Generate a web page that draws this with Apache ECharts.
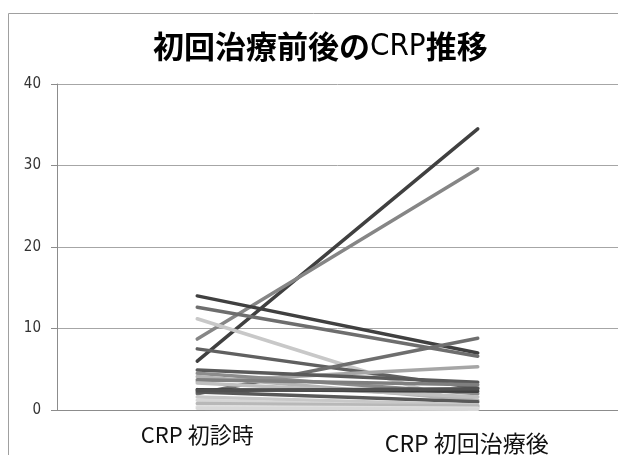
<!DOCTYPE html>
<html>
<head>
<meta charset="utf-8">
<script src="https://cdn.jsdelivr.net/npm/echarts@6/dist/echarts.min.js"></script>
<style>
  html, body { margin: 0; padding: 0; background: #fff; }
  #main { width: 618px; height: 455px; }
</style>
</head>
<body>
<div id="main"></div>
<script>
// CRP values per patient: at first visit -> after first treatment
const categories = ['CRP 初診時', 'CRP 初回治療後']
const crpBefore = [6.0, 8.7, 14.0, 12.6, 11.2, 7.5, 2.0, 3.5, 4.9, 4.5, 4.1, 3.7, 3.3, 2.5, 2.2, 1.6, 1.2, 0.8, 0.4, 0.2, 2.4]
const crpAfter  = [34.5, 29.6, 7.0, 6.6, 0.4, 2.7, 8.8, 5.3, 3.4, 2.0, 1.2, 3.1, 1.6, 2.3, 1.0, 0.6, 0.3, 0.5, 0.2, 0.1, 2.6]
const yTicks = [0, 10, 20, 30, 40]

// grey shades used for the lines
const palette = ['#404040', '#868686', '#404040', '#6e6e6e', '#c8c8c8', '#606060', '#6e6e6e', '#a6a6a6',
  '#5a5a5a', '#8c8c8c', '#b4b4b4', '#7f7f7f', '#bfbfbf', '#404040', '#595959', '#c8c8c8', '#d6d6d6',
  '#b8b8b8', '#e0e0e0', '#d9d9d9', '#505050']

const chart = echarts.init(document.getElementById('main'))

const series = crpBefore.map((v, i) => ({
  type: 'line',
  data: [v, crpAfter[i]],
  showSymbol: false,
  silent: true,
  lineStyle: { color: palette[i], width: 3.5, cap: 'round' }
}))

const narrow = 'Liberation Sans Narrow, DejaVu Sans Condensed, sans-serif'

chart.setOption({
  animation: false,
  title: {
    text: '{b|初回治療前後の}{n|CRP}{b|推移}',
    left: 148,
    top: 26,
    textStyle: {
      rich: {
        b: { fontSize: 31, fontWeight: 'bold', color: '#000', fontFamily: 'Noto Sans CJK JP' },
        n: { fontSize: 31, fontWeight: 'normal', color: '#000', fontFamily: narrow }
      }
    }
  },
  graphic: [{
    type: 'rect',
    shape: { x: 8.5, y: 13.5, width: 640, height: 470 },
    style: { fill: 'none', stroke: '#a0a0a0', lineWidth: 1 },
    silent: true
  }],
  grid: { left: 57, right: -7, top: 84, bottom: 45 },
  xAxis: {
    type: 'category',
    data: categories,
    boundaryGap: true,
    axisLine: { lineStyle: { color: '#8c8c8c', width: 1 } },
    axisTick: { show: false },
    axisLabel: {
      color: '#111',
      fontSize: 22,
      margin: 14,
      fontFamily: 'Liberation Sans Narrow, Noto Sans CJK JP, sans-serif',
      formatter: (v, i) => (i === 1 ? '{s|' + v + '}' : v),
      rich: {
        s: {
          fontSize: 23,
          color: '#111',
          padding: [8, 22, 0, 0],
          fontFamily: 'Liberation Sans Narrow, Noto Sans CJK JP, sans-serif'
        }
      }
    }
  },
  yAxis: {
    type: 'value',
    min: yTicks[0],
    max: yTicks[yTicks.length - 1],
    interval: 10,
    axisLine: { show: true, lineStyle: { color: '#8c8c8c', width: 1 } },
    axisTick: { show: true, length: 6, lineStyle: { color: '#8c8c8c' } },
    axisLabel: {
      color: '#333',
      fontSize: 15,
      margin: 16,
      fontFamily: narrow
    },
    splitLine: { lineStyle: { color: '#a6a6a6', width: 1 } }
  },
  series: series
})

window.addEventListener('resize', () => {
  chart.resize()
})
</script>
</body>
</html>
